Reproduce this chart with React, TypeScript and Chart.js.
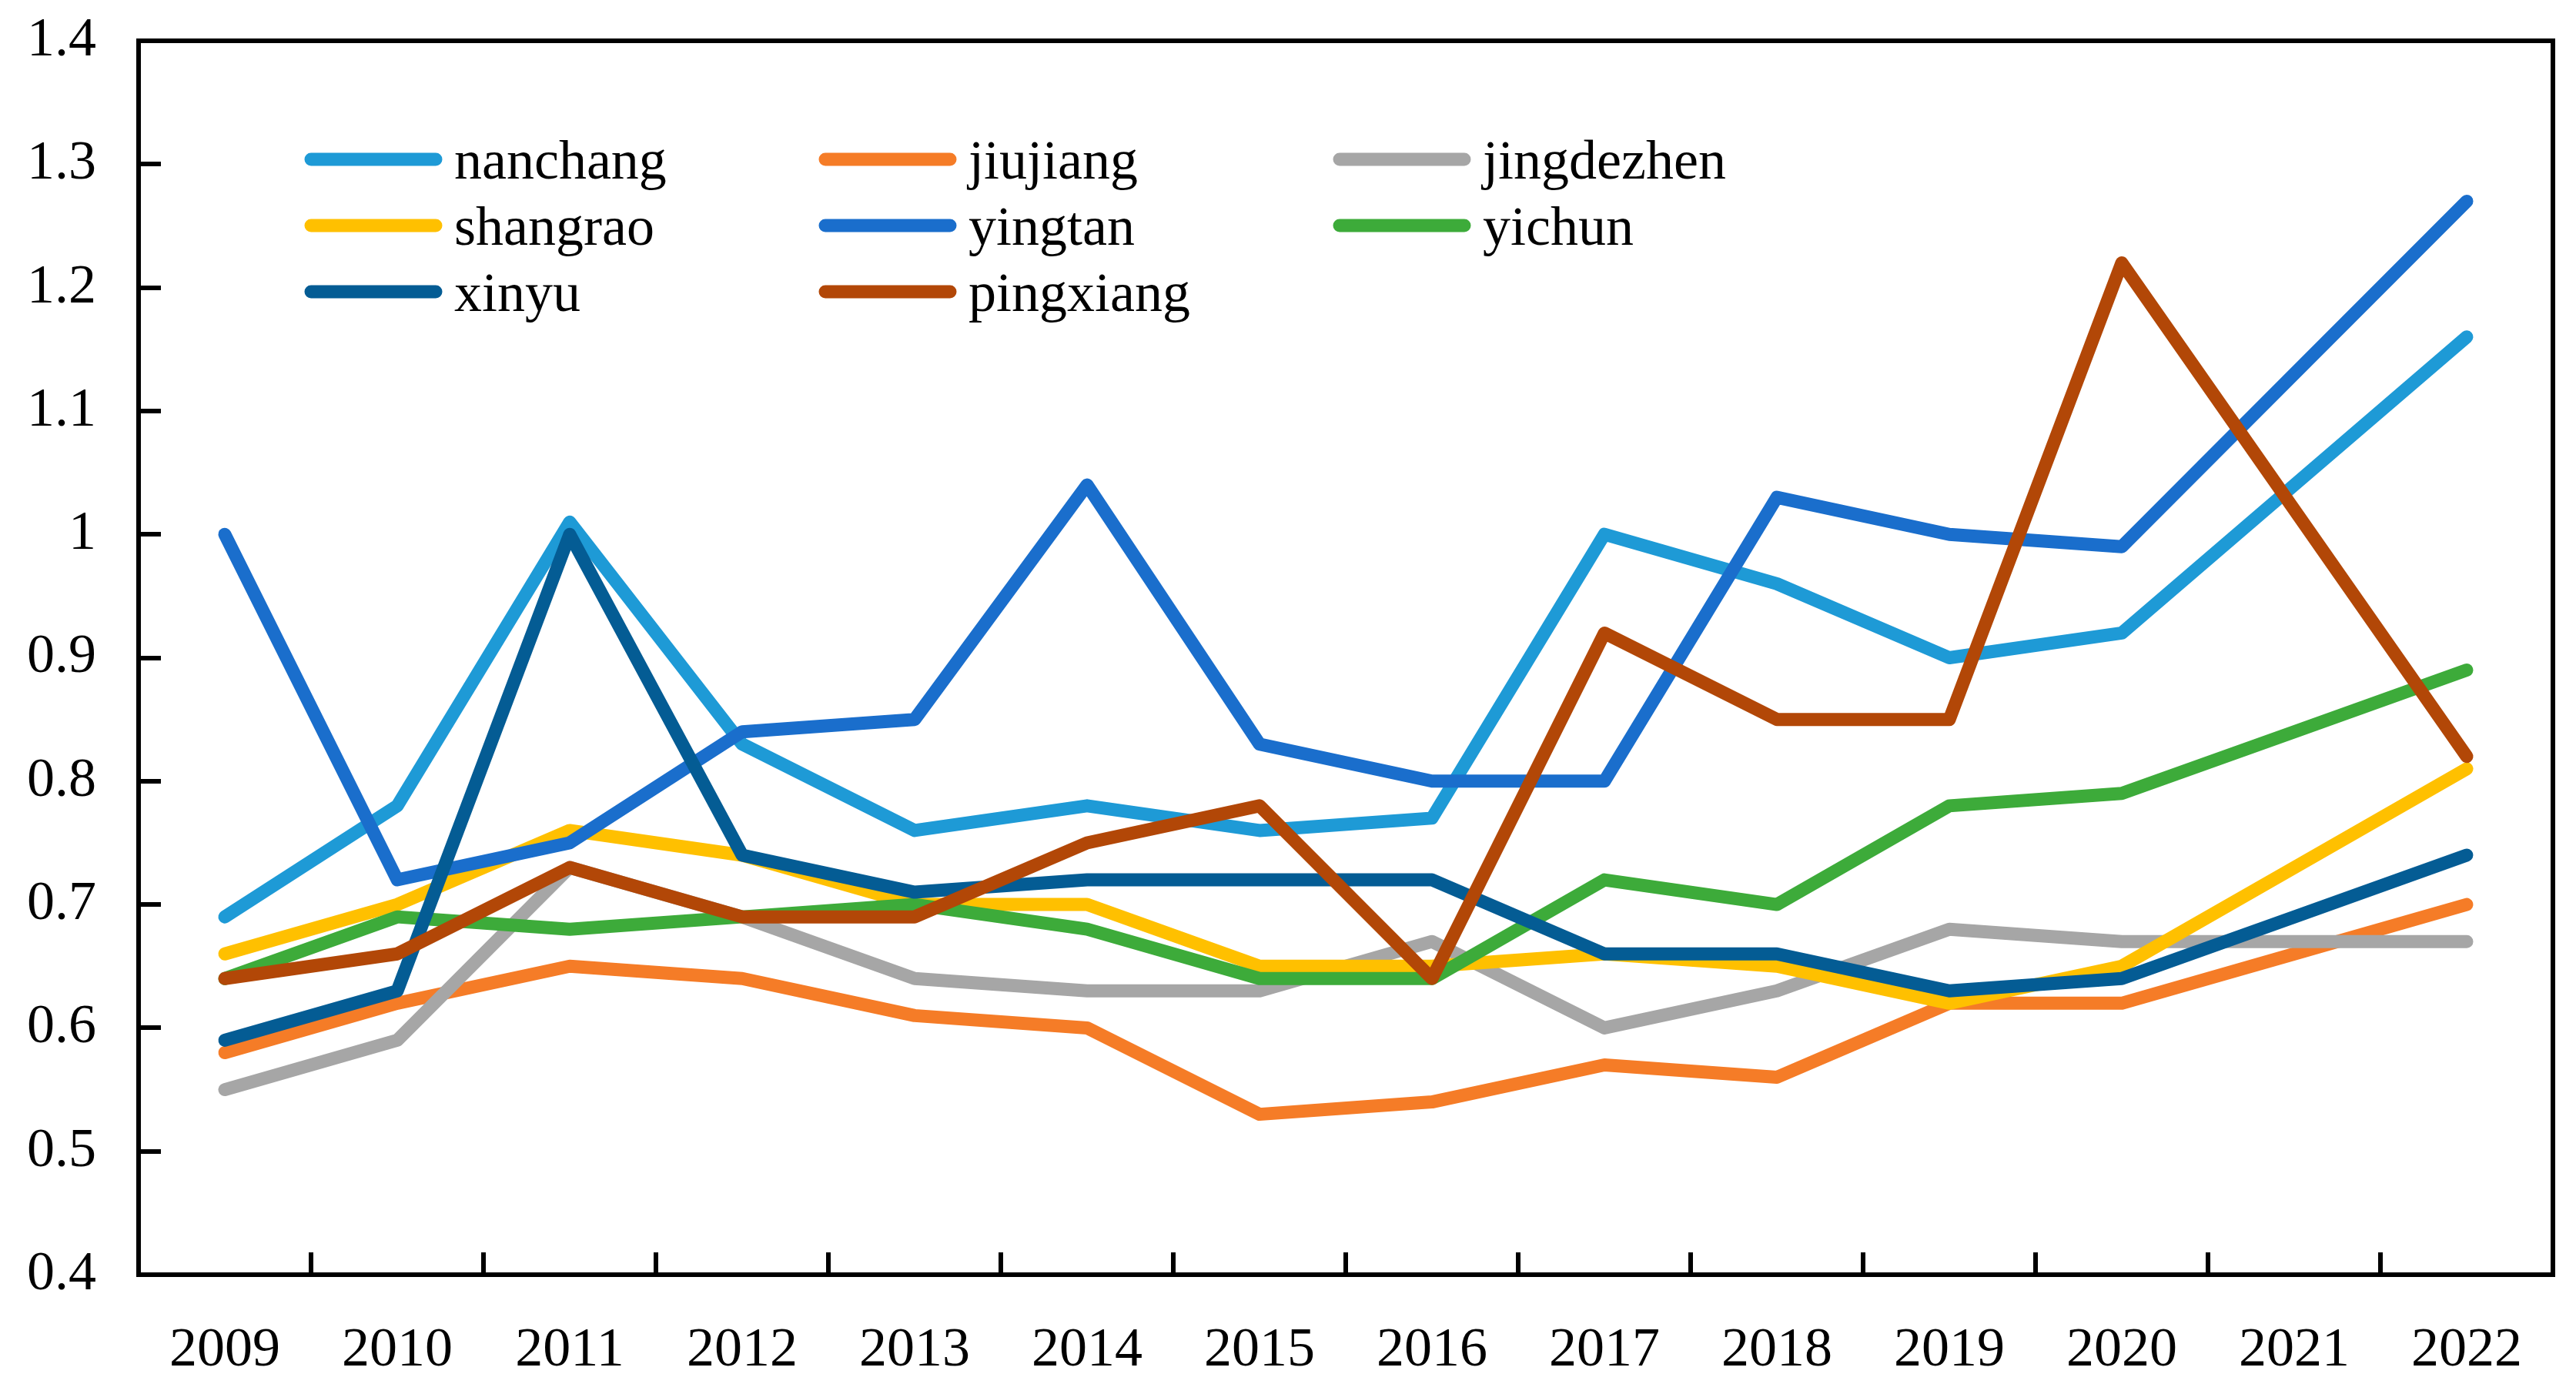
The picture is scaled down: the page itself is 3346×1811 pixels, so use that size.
import React, { useEffect, useRef } from 'react';
import { Chart, registerables } from 'chart.js';

Chart.register(...registerables);

const years = ['2009', '2010', '2011', '2012', '2013', '2014', '2015', '2016', '2017', '2018', '2019', '2020', '2021', '2022'];

const nanchang = [0.69, 0.78, 1.01, 0.83, 0.76, 0.78, 0.76, 0.77, 1.0, 0.96, 0.9, 0.92, 1.04, 1.16];
const jiujiang = [0.58, 0.62, 0.65, 0.64, 0.61, 0.6, 0.53, 0.54, 0.57, 0.56, 0.62, 0.62, 0.66, 0.7];
const jingdezhen = [0.55, 0.59, 0.73, 0.69, 0.64, 0.63, 0.63, 0.67, 0.6, 0.63, 0.68, 0.67, 0.67, 0.67];
const shangrao = [0.66, 0.7, 0.76, 0.74, 0.7, 0.7, 0.65, 0.65, 0.66, 0.65, 0.62, 0.65, 0.73, 0.81];
const yingtan = [1.0, 0.72, 0.75, 0.84, 0.85, 1.04, 0.83, 0.8, 0.8, 1.03, 1.0, 0.99, 1.13, 1.27];
const yichun = [0.64, 0.69, 0.68, 0.69, 0.7, 0.68, 0.64, 0.64, 0.72, 0.7, 0.78, 0.79, 0.84, 0.89];
const xinyu = [0.59, 0.63, 1.0, 0.74, 0.71, 0.72, 0.72, 0.72, 0.66, 0.66, 0.63, 0.64, 0.69, 0.74];
const pingxiang = [0.64, 0.66, 0.73, 0.69, 0.69, 0.75, 0.78, 0.64, 0.92, 0.85, 0.85, 1.22, 1.02, 0.82];

const seriesNames = ['nanchang', 'jiujiang', 'jingdezhen', 'shangrao', 'yingtan', 'yichun', 'xinyu', 'pingxiang'];
const seriesValues = [nanchang, jiujiang, jingdezhen, shangrao, yingtan, yichun, xinyu, pingxiang];
const seriesColors = ['#1E9AD6', '#F57C27', '#A6A6A6', '#FFC000', '#1A6ECC', '#3DAB3A', '#045C94', '#B24707'];

const yMin = 0.4;
const yMax = 1.4;
const yStep = 0.1;

const FONT = '"Liberation Serif", "Times New Roman", serif';

const framePlugin = {
  id: 'frameTicks',
  afterDatasetsDraw(chart: any) {
    const { ctx, chartArea: a, scales } = chart;
    ctx.save();
    ctx.strokeStyle = '#000';
    ctx.lineWidth = 6;
    ctx.lineCap = 'butt';
    ctx.strokeRect(a.left, a.top, a.right - a.left, a.bottom - a.top);
    const ys = scales.y;
    ys.ticks.forEach((t: any) => {
      if (t.value <= yMin + 1e-6 || t.value >= yMax - 1e-6) return;
      const y = Math.round(ys.getPixelForValue(t.value));
      ctx.beginPath();
      ctx.moveTo(a.left, y);
      ctx.lineTo(a.left + 29, y);
      ctx.stroke();
    });
    const xs = scales.x;
    for (let i = 1; i < years.length; i++) {
      const x = Math.round((xs.getPixelForValue(i - 1) + xs.getPixelForValue(i)) / 2);
      ctx.beginPath();
      ctx.moveTo(x, a.bottom);
      ctx.lineTo(x, a.bottom - 29);
      ctx.stroke();
    }
    ctx.restore();
  },
};

const legendPlugin = {
  id: 'innerLegend',
  afterDraw(chart: any) {
    const { ctx } = chart;
    const colX = [396, 1064, 1732];
    const rowY = [207, 293, 379];
    ctx.save();
    ctx.font = `72px ${FONT}`;
    ctx.textBaseline = 'alphabetic';
    ctx.textAlign = 'left';
    seriesNames.forEach((name, i) => {
      const col = i % 3;
      const row = Math.floor(i / 3);
      const x0 = colX[col];
      const y = rowY[row];
      ctx.strokeStyle = seriesColors[i];
      ctx.lineWidth = 17;
      ctx.lineCap = 'round';
      ctx.beginPath();
      ctx.moveTo(x0 + 8, y);
      ctx.lineTo(x0 + 170, y);
      ctx.stroke();
      ctx.fillStyle = '#000';
      ctx.fillText(name, x0 + 194, y + 25);
    });
    ctx.restore();
  },
};

export default function App() {
  const canvasRef = useRef<HTMLCanvasElement | null>(null);

  useEffect(() => {
    if (!canvasRef.current) return;
    const chart = new Chart(canvasRef.current, {
      type: 'line',
      data: {
        labels: years,
        datasets: seriesNames.map((name, i) => ({
          label: name,
          data: seriesValues[i],
          borderColor: seriesColors[i],
          backgroundColor: seriesColors[i],
          borderWidth: 17,
          pointRadius: 0,
          pointHoverRadius: 0,
          tension: 0,
          fill: false,
          borderCapStyle: 'round',
          borderJoinStyle: 'round',
          order: seriesNames.length - i,
        })),
      },
      options: {
        animation: false,
        responsive: true,
        maintainAspectRatio: false,
        devicePixelRatio: 1,
        layout: { padding: { top: 53, right: 30, left: 0, bottom: 0 } },
        plugins: {
          legend: { display: false },
          tooltip: { enabled: false },
          title: { display: false },
        },
        scales: {
          x: {
            type: 'category',
            offset: true,
            grid: { display: false, drawTicks: false },
            border: { display: false },
            ticks: {
              color: '#000',
              font: { family: FONT, size: 72 },
              padding: 56,
              maxRotation: 0,
              autoSkip: false,
            },
            afterFit: (scale: any) => {
              scale.height = 155;
              scale.paddingLeft = 0;
              scale.paddingRight = 0;
            },
          },
          y: {
            min: yMin,
            max: yMax,
            grid: { display: false, drawTicks: false },
            border: { display: false },
            ticks: {
              stepSize: yStep,
              color: '#000',
              font: { family: FONT, size: 72 },
              padding: 55,
              callback: (v: any) => String(Number(Number(v).toFixed(1))),
            },
            afterFit: (scale: any) => {
              scale.width = 180;
              scale.paddingTop = 0;
              scale.paddingBottom = 0;
            },
          },
        },
      },
      plugins: [framePlugin, legendPlugin],
    });
    return () => chart.destroy();
  }, []);

  return (
    <div style={{ position: 'absolute', left: 0, top: 0, width: 3346, height: 1811, background: '#fff' }}>
      <canvas ref={canvasRef} />
    </div>
  );
}
